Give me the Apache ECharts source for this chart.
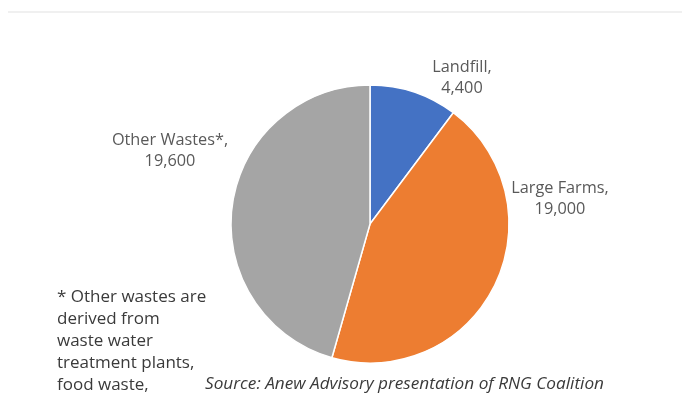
<!DOCTYPE html>
<html><head><meta charset="utf-8">
<script src="https://cdn.jsdelivr.net/npm/echarts@6/dist/echarts.min.js"></script>
<style>html,body{margin:0;padding:0;background:#fff}#c{width:682px;height:393px}</style>
</head><body><div id="c"></div>
<script>
const categories = ['Landfill', 'Large Farms', 'Other Wastes*'];
const values = [4400, 19000, 19600];
const colors = ['#4472C4', '#ED7D31', '#A5A5A5'];
const footnote = ['* Other wastes are', 'derived from', 'waste water', 'treatment plants,', 'food waste,'];
const source = 'Source: Anew Advisory presentation of RNG Coalition';
const labelPos = [[462, 78], [560, 199], [170, 151]];

const chart = echarts.init(document.getElementById('c'));
chart.setOption({
  backgroundColor: '#fff',
  animation: false,
  series: [{
    type: 'pie',
    center: [370, 224],
    radius: 139,
    startAngle: 90,
    clockwise: true,
    data: categories.map((c, i) => ({ name: c, value: values[i], itemStyle: { color: colors[i] } })),
    itemStyle: { borderColor: '#fff', borderWidth: 1.5 },
    label: {
      show: true,
      position: 'outside',
      formatter: p => p.name + ',\n' + p.value.toLocaleString('en-US'),
      fontFamily: 'Open Sans',
      fontSize: 16.3,
      lineHeight: 21,
      color: '#595959',
      align: 'center'
    },
    labelLine: { show: false },
    labelLayout: p => ({ x: labelPos[p.dataIndex][0], y: labelPos[p.dataIndex][1], align: 'center', verticalAlign: 'middle' }),
    emphasis: { disabled: true }
  }],
  graphic: [
    { type: 'line', shape: { x1: 8, y1: 12, x2: 682, y2: 12 }, style: { stroke: '#ebebeb', lineWidth: 1.5 } },
    { type: 'text', left: 57, top: 286, style: { text: footnote.join('\n'), fontFamily: 'Open Sans', fontSize: 17, lineHeight: 22, fill: '#3a3a3a' } },
    { type: 'text', left: 205, top: 373, style: { text: source, fontFamily: 'Open Sans', fontStyle: 'italic', fontSize: 17.2, lineHeight: 22, fill: '#3a3a3a' } }
  ]
});
</script></body></html>
